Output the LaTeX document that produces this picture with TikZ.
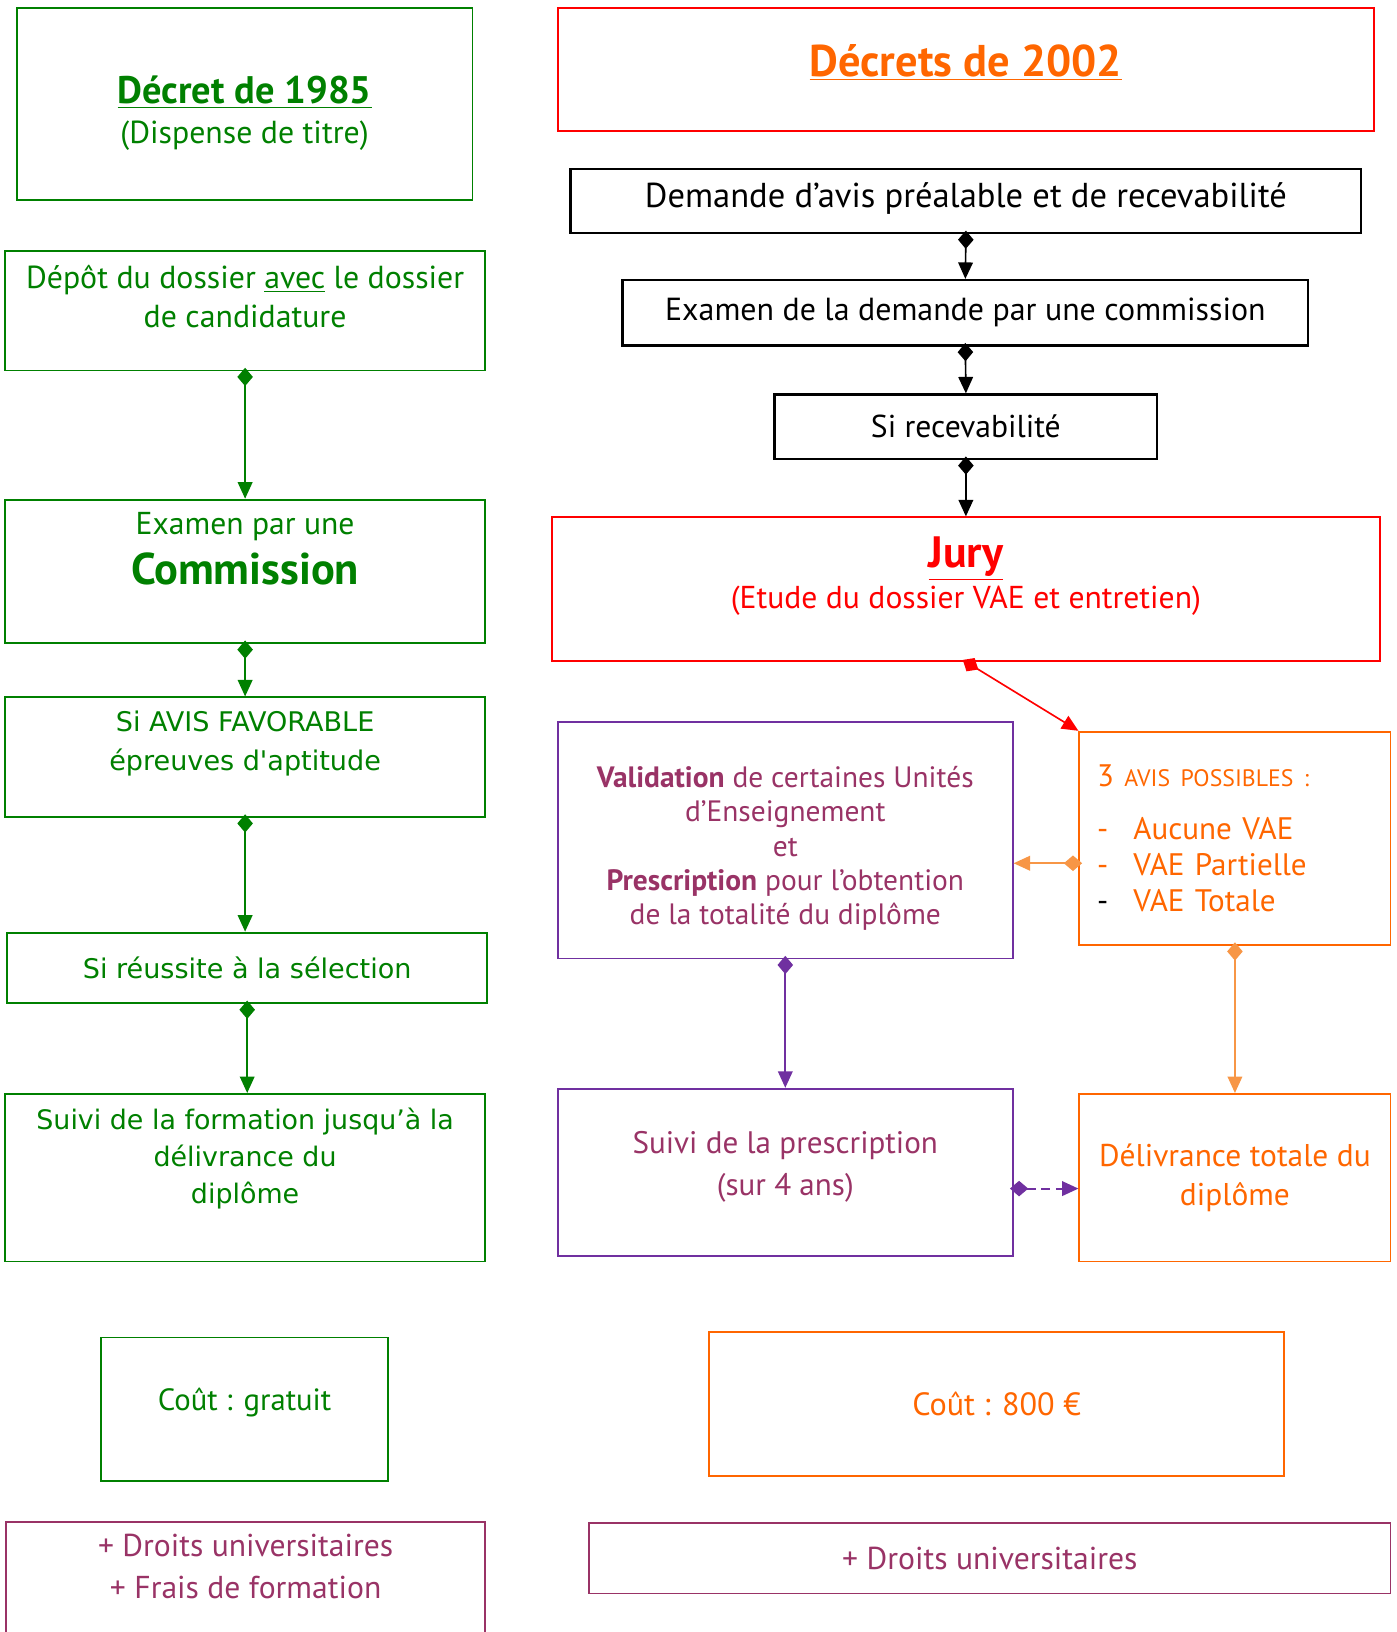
\documentclass[tikz,border=0pt]{standalone}
\usepackage{fontspec}
\setmainfont{PT Sans}
\newfontfamily\verdfont{DejaVu Sans}
\usepackage{tikz}
\usetikzlibrary{arrows.meta}
\usepackage{xcolor}
\definecolor{dfgreen}{RGB}{0,128,0}
\definecolor{dfred}{RGB}{255,0,0}
\definecolor{dforange}{RGB}{255,102,0}
\definecolor{dflightorange}{RGB}{247,150,70}
\definecolor{dfpurple}{RGB}{112,48,160}
\definecolor{dfplum}{RGB}{153,51,102}
\tikzstyle{arrow} = [line width=0.9pt, shorten <=-2pt, {Diamond[length=10pt,width=8.5pt]}-{Triangle[length=9pt,width=8pt]}]
\tikzstyle{stepbox} = [rectangle, draw, line width=1pt, align=center, inner sep=2pt, font=\fontsize{17.4}{21.5}\selectfont]
\tikzstyle{greenbox} = [stepbox, draw=dfgreen, text=dfgreen]
\tikzstyle{verdbox} = [greenbox, font=\verdfont\fontsize{14.8}{21.5}\selectfont]
\tikzstyle{blackbox} = [stepbox, line width=1.2pt, font=\fontsize{18.9}{21.5}\selectfont]
\tikzstyle{redbox} = [stepbox, draw=dfred, text=dfred]
\tikzstyle{orangebox} = [stepbox, draw=dforange, text=dforange]
\tikzstyle{purplebox} = [stepbox, draw=dfpurple, text=dfplum]
\tikzstyle{plumbox} = [stepbox, draw=dfplum, text=dfplum]

\begin{document}
\begin{tikzpicture}[x=0.02cm, y=-0.02cm]
    \useasboundingbox (0,0) rectangle (1342,1568);

    % Decret de 1985
    \node[greenbox, minimum width=8.76cm, minimum height=3.68cm] (dec85) at (235,100) {\rule{0pt}{25pt}{\fontsize{21}{23}\selectfont\bfseries\underline{Décret de 1985}}\\(Dispense de titre)};
    \node[greenbox, minimum width=9.22cm, minimum height=2.30cm, text depth=16pt] (depot) at (235.5,298.5) {Dépôt du dossier \underline{avec} le dossier\\de candidature};
    \node[greenbox, minimum width=9.22cm, minimum height=2.76cm, text depth=25pt, font=\fontsize{17.3}{25}\selectfont] (commission) at (235.5,549) {Examen par une\\[2pt]{\fontsize{24.3}{25}\selectfont\bfseries Commission}};
    \node[verdbox, minimum width=9.22cm, minimum height=2.30cm, text depth=18pt] (avis) at (235.5,727.5) {Si AVIS FAVORABLE\\épreuves d'aptitude};
    \node[verdbox, minimum width=9.22cm, minimum height=1.36cm] (reussite) at (237.5,930) {Si réussite à la sélection};
    \node[verdbox, minimum width=9.22cm, minimum height=3.22cm, text depth=24pt, font=\verdfont\fontsize{14.7}{20.5}\selectfont] (formation) at (235.5,1131.5) {Suivi de la formation jusqu’à la\\délivrance du\\diplôme};
    \node[greenbox, minimum width=5.52cm, minimum height=2.76cm, text depth=11pt, font=\fontsize{16.8}{21.5}\selectfont] (gratuit) at (235,1354) {Coût : gratuit};
    \node[plumbox, minimum width=9.20cm, minimum height=2.76cm, text depth=30pt, font=\fontsize{17.3}{22.7}\selectfont] (droitsA) at (236,1531) {+ Droits universitaires\\+ Frais de formation};

    % Decrets de 2002
    \node[redbox, minimum width=15.68cm, minimum height=2.36cm, text depth=10pt, text=dforange] (dec02) at (928,67) {{\fontsize{24.3}{26}\selectfont\bfseries\underline{Décrets de 2002}}};
    \node[blackbox, minimum width=15.20cm, minimum height=1.24cm, text depth=6pt] (demande) at (928,193) {Demande d’avis préalable et de recevabilité};
    \node[blackbox, minimum width=13.18cm, minimum height=1.26cm, font=\fontsize{17.45}{21.5}\selectfont] (examen) at (927.5,300.5) {Examen de la demande par une commission};
    \node[blackbox, minimum width=7.36cm, minimum height=1.24cm, font=\fontsize{17.3}{21.5}\selectfont] (recev) at (928,410) {Si recevabilité};
    \node[redbox, minimum width=15.92cm, minimum height=2.76cm, text depth=18pt, font=\fontsize{17.3}{22}\selectfont] (jury) at (928,566) {{\fontsize{24}{22}\selectfont\bfseries\underline{Jury}}\\(Etude du dossier VAE et entretien)};
    \node[purplebox, minimum width=8.74cm, minimum height=4.54cm, text depth=0pt, font=\fontsize{16.1}{18.8}\selectfont] (valid) at (754.5,807.5) {\rule{0pt}{17pt}\textbf{Validation} de certaines Unités\\d’Enseignement\\et\\\textbf{Prescription} pour l’obtention\\de la totalité du diplôme};
    \node[orangebox, minimum width=5.98cm, minimum height=4.10cm, align=left, text width=5.3cm, font=\fontsize{17}{19.8}\selectfont] (troisavis) at (1186.5,805.5) {3 {\fontsize{13}{19.8}\selectfont AVIS POSSIBLES :}\\[9pt]
        \makebox[0.7cm][l]{-}Aucune VAE\\
        \makebox[0.7cm][l]{-}VAE Partielle\\
        \makebox[0.7cm][l]{\textcolor{black}{-}}VAE Totale};
    \node[purplebox, minimum width=8.74cm, minimum height=3.22cm, text depth=10pt, font=\fontsize{17}{22.7}\selectfont] (prescr) at (754.5,1126.5) {Suivi de la prescription\\(sur 4 ans)};
    \node[orangebox, minimum width=5.98cm, minimum height=3.22cm, font=\fontsize{17.2}{21.5}\selectfont] (delivr) at (1186.5,1131.5) {Délivrance totale du\\diplôme};
    \node[orangebox, minimum width=11.06cm, minimum height=2.76cm, font=\fontsize{17.6}{21.5}\selectfont] (cout800) at (957.5,1349) {Coût : 800 €};
    \node[plumbox, minimum width=15.40cm, minimum height=1.36cm, font=\fontsize{17.3}{21.5}\selectfont] (droitsB) at (951,1497) {+ Droits universitaires};

    % Arrows
    \draw[arrow, dfgreen] (depot.south) -- (commission.north);
    \draw[arrow, dfgreen] (commission.south) -- (avis.north);
    \draw[arrow, dfgreen] (avis.south) -- (avis.south |- reussite.north);
    \draw[arrow, dfgreen] (reussite.south) -- (reussite.south |- formation.north);
    \draw[arrow] (demande.south) -- (examen.north);
    \draw[arrow] (examen.south) -- (recev.north);
    \draw[arrow] (recev.south) -- (jury.north);
    \draw[arrow, dfred] (jury.south) -- (troisavis.north west);
    \coordinate (avisw) at ([yshift=-13.6pt]troisavis.west);
    \draw[arrow, dflightorange] (avisw) -- (avisw -| valid.east);
    \draw[arrow, dfpurple] (valid.south) -- (prescr.north);
    \draw[arrow, dflightorange] (troisavis.south) -- (delivr.north);
    \coordinate (prescre) at ([yshift=-8.8pt]prescr.east);
    \draw[arrow, dfpurple, line width=1.1pt, dash pattern=on 5pt off 3pt] (prescre) -- (prescre -| delivr.west);
\end{tikzpicture}
\end{document}
